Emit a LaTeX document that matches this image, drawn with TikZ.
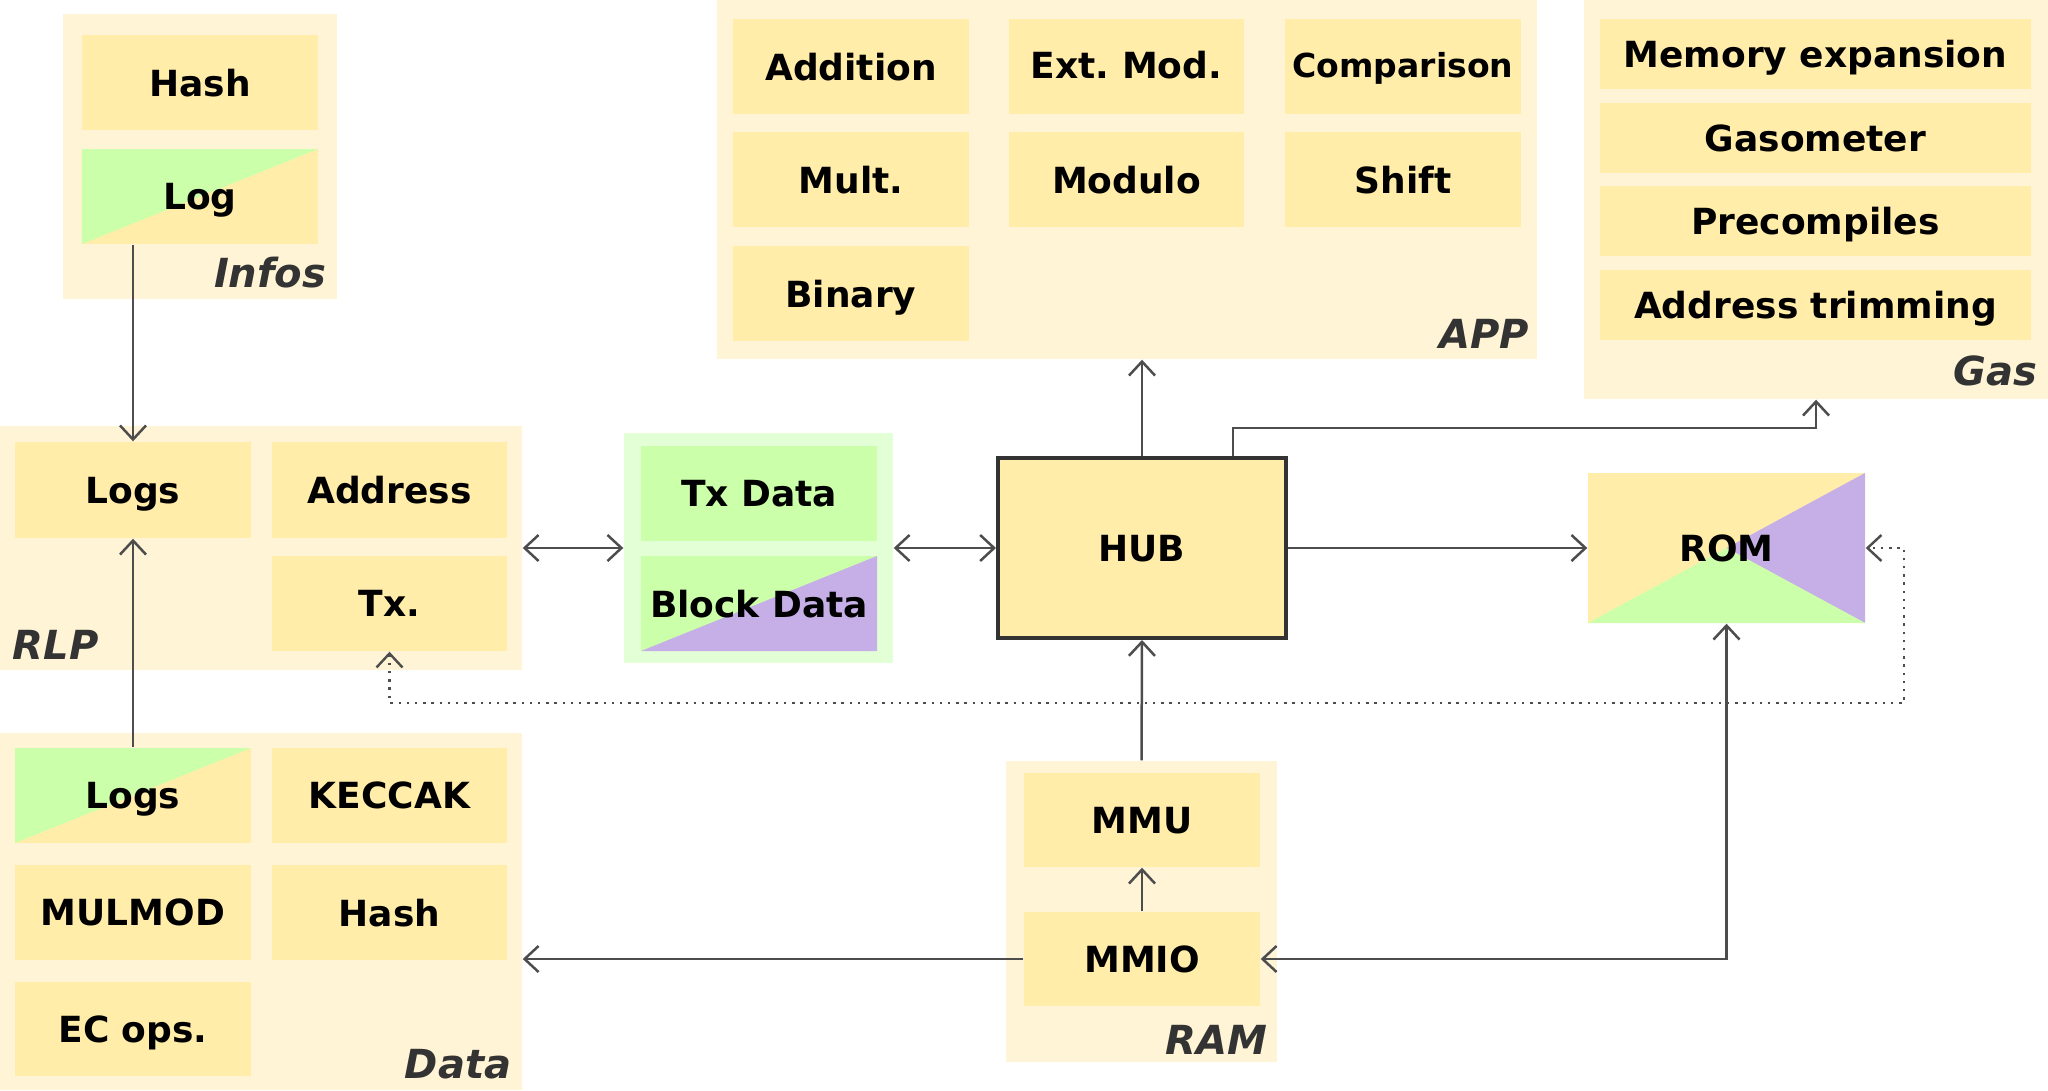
\documentclass[tikz,border=0pt]{standalone}
\usepackage{fontspec}
\setmainfont{DejaVu Sans}
\usetikzlibrary{arrows.meta,calc}
\definecolor{contc}{HTML}{FFF4D5}
\definecolor{boxc}{HTML}{FFEDA9}
\definecolor{greenc}{HTML}{CCFFAA}
\definecolor{purc}{HTML}{C5AFE6}
\definecolor{gcont}{HTML}{E2FFD6}
\definecolor{linec}{HTML}{4D4D4D}
\definecolor{labc}{HTML}{333333}
\frenchspacing
\newcommand\bx[7]{%
  \pgfmathsetmacro\bxw{(#5-#3)*0.1}%
  \pgfmathsetmacro\bxh{(#6-#4)*0.1}%
  \node[#1, minimum width=\bxw mm, minimum height=\bxh mm] (#2) at ({(#3+#5)/2},{(#4+#6)/2}) {#7};}
\begin{document}
\begin{tikzpicture}[x=0.1mm,y=-0.1mm,
 >={Straight Barb[length=1.4mm,width=2.6mm]},
 cont/.style={fill=contc, inner sep=0},
 box/.style={fill=boxc, inner sep=0, text depth=0pt, font=\fontsize{10.24}{12}\selectfont\bfseries},
 gbox/.style={box, fill=greenc},
 lab/.style={font=\fontsize{11.4}{13}\selectfont\bfseries\itshape, text=labc, inner sep=0},
 arr/.style={draw=linec, line width=0.25mm, ->},
 darr/.style={draw=linec, line width=0.25mm, <->},
 dotarr/.style={draw=linec, line width=0.24mm, <->, dash pattern=on 0.24mm off 0.58mm},
 gyl/.style={box, path picture={\fill[greenc] (path picture bounding box.north west) -- (path picture bounding box.north east) -- (path picture bounding box.south west) -- cycle;}},
 gpl/.style={box, fill=greenc, path picture={\fill[purc] (path picture bounding box.north east) -- (path picture bounding box.south east) -- (path picture bounding box.south west) -- cycle;}},
 romst/.style={box, path picture={
   \fill[purc] (path picture bounding box.north east) -- (path picture bounding box.center) -- (path picture bounding box.south east) -- cycle;
   \fill[greenc] (path picture bounding box.south west) -- (path picture bounding box.center) -- (path picture bounding box.south east) -- cycle;}},
 hubst/.style={box, draw=labc, line width=0.4mm}
]
\useasboundingbox (0,0) rectangle (2048,1090);

% Infos
\bx{cont}{infos}{63}{14}{337}{299}{}
\bx{box}{hash1}{82}{35}{318}{130}{Hash}
\bx{gyl}{log1}{82}{149}{318}{244}{Log}
\node[lab, anchor=base east] (infoslab) at (327,287) {Infos};

% APP
\bx{cont}{app}{717}{0}{1537}{359}{}
\bx{box}{add}{733}{19}{969}{114}{Addition}
\bx{box}{extmod}{1009}{19}{1244}{114}{\raisebox{0.4mm}{Ext. Mod.}}
\bx{box,font=\fontsize{9.4}{11}\selectfont\bfseries}{comp}{1285}{19}{1521}{114}{\raisebox{0.3mm}{Comparison}}
\bx{box}{mult}{733}{132}{969}{227}{Mult.}
\bx{box}{modulo}{1009}{132}{1244}{227}{Modulo}
\bx{box}{shift}{1285}{132}{1521}{227}{Shift}
\bx{box}{binary}{733}{246}{969}{341}{Binary}
\node[lab, anchor=base east] (applab) at (1530,348) {APP};

% Gas
\bx{cont}{gas}{1584}{0}{2048}{399}{}
\bx{box}{memexp}{1600}{19}{2031}{89}{Memory expansion}
\bx{box}{gasometer}{1600}{103}{2031}{173}{Gasometer}
\bx{box}{precomp}{1600}{186}{2031}{256}{Precompiles}
\bx{box}{addrtrim}{1600}{270}{2031}{340}{Address trimming}
\node[lab, anchor=base east] (gaslab) at (2038,385) {Gas};

% RLP
\bx{cont}{rlp}{0}{426}{522}{670}{}
\bx{box}{logs1}{15}{442}{251}{538}{Logs}
\bx{box}{address}{272}{442}{507}{538}{Address}
\bx{box}{tx}{272}{556}{507}{651}{Tx.}
\node[lab, anchor=base west] (rlplab) at (12,659) {RLP};

% Tx / Block data
\bx{cont,fill=gcont}{txb}{624}{433}{893}{663}{}
\bx{gbox}{txdata}{641}{446}{877}{541}{Tx Data}
\bx{gpl}{blockdata}{641}{556}{877}{651}{Block Data}

% HUB and ROM
\bx{hubst}{hub}{998}{458}{1286}{638}{HUB}
\bx{romst}{rom}{1588}{473}{1865}{623}{ROM}

% Data
\bx{cont}{data}{0}{733}{522}{1090}{}
\bx{gyl}{logs2}{15}{748}{251}{843}{Logs}
\bx{box}{keccak}{272}{748}{507}{843}{KECCAK}
\bx{box}{mulmod}{15}{865}{251}{960}{MULMOD}
\bx{box}{hash2}{272}{865}{507}{960}{Hash}
\bx{box}{ecops}{15}{982}{251}{1076}{EC ops.}
\node[lab, anchor=base east] (datalab) at (512,1078) {Data};

% RAM
\bx{cont}{ram}{1006}{761}{1277}{1062}{}
\bx{box}{mmu}{1024}{773}{1260}{867}{MMU}
\bx{box}{mmio}{1024}{912}{1260}{1006}{MMIO}
\node[lab, anchor=base east] (ramlab) at (1268,1054) {RAM};

% connectors
\draw[arr] (log1.south -| logs1.north) -- (logs1.north);
\draw[arr] (logs2.north) -- (logs1.south);
\draw[darr] (rlp.east) -- (txb.west);
\draw[darr] (txb.east) -- (hub.west);
\draw[arr] (hub.east) -- (rom.west);
\draw[arr] (hub.north) -- (hub.north |- app.south);
\draw[arr] ([xshift=9.1mm]hub.north) -- ++(0,-28) -| (gas.south);
\draw[arr] (ram.north) -- (hub.south);
\draw[arr] (mmio.north) -- (mmu.south);
\draw[arr] (mmio.west) -- (data.east |- mmio.west);
\draw[darr] (rom.south) |- (mmio.east);
\coordinate (dc) at (1904,703);
\draw[dotarr] (tx.south) |- (dc) |- (rom.east);
\end{tikzpicture}
\end{document}
